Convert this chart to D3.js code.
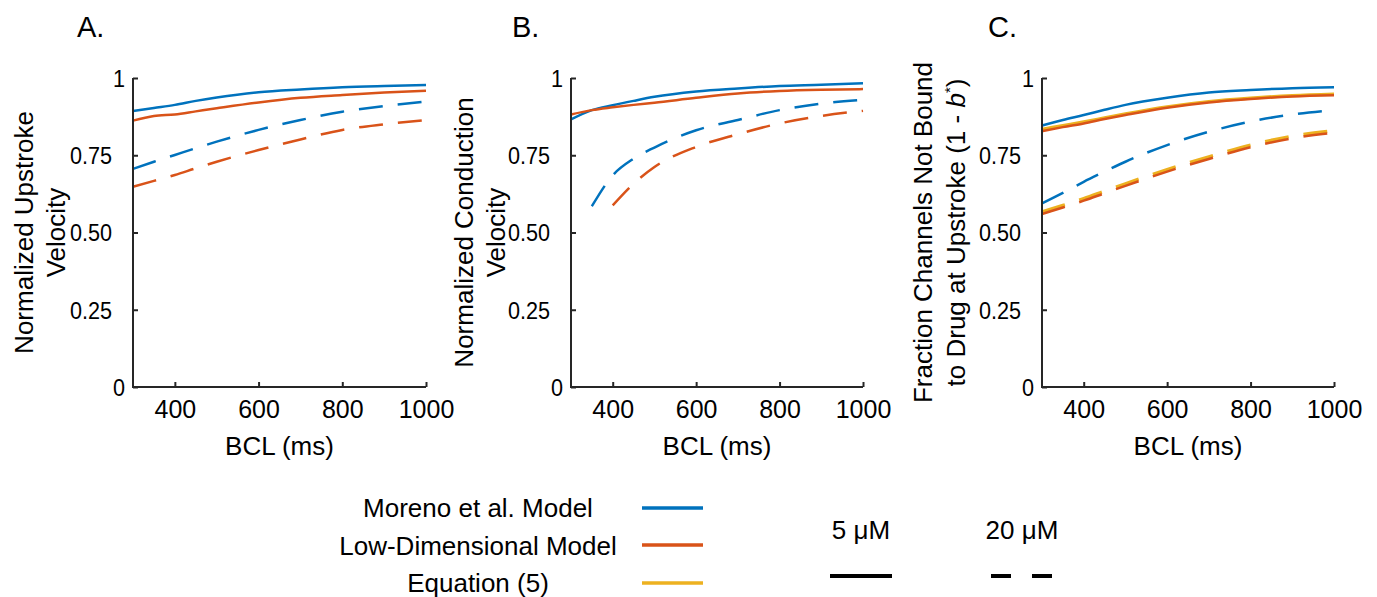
<!DOCTYPE html>
<html>
<head>
<meta charset="utf-8">
<script src="https://cdn.jsdelivr.net/npm/d3@7"></script>
<style>
  body { margin: 0; background: #fff; }
  svg text { font-family: "Liberation Sans", Arial, sans-serif; fill: #000; }
</style>
</head>
<body>
<div id="chart"></div>
<script>
// BCL values (ms) shared by all panels
const bcl = [300, 350, 400, 450, 500, 600, 700, 800, 900, 1000];

// Panel A: normalized upstroke velocity
const morenoA5  = [0.893, 0.903, 0.913, 0.926, 0.937, 0.954, 0.963, 0.970, 0.974, 0.977];
const lowdimA5  = [0.862, 0.877, 0.882, 0.892, 0.902, 0.921, 0.936, 0.945, 0.953, 0.959];
const morenoA20 = [0.706, 0.729, 0.751, 0.773, 0.794, 0.832, 0.864, 0.891, 0.909, 0.924];
const lowdimA20 = [0.648, 0.667, 0.686, 0.708, 0.729, 0.767, 0.801, 0.832, 0.850, 0.864];

// Panel B: normalized conduction velocity
const morenoB5  = [0.866, 0.896, 0.912, 0.926, 0.939, 0.956, 0.966, 0.974, 0.978, 0.983];
const lowdimB5  = [0.882, 0.896, 0.905, 0.913, 0.920, 0.936, 0.950, 0.958, 0.962, 0.964];
const morenoB20 = [null, 0.585, 0.685, 0.739, 0.775, 0.831, 0.864, 0.896, 0.917, 0.929];
const lowdimB20 = [null, null, 0.588, 0.658, 0.712, 0.777, 0.818, 0.853, 0.877, 0.894];

// Panel C: fraction channels not bound at upstroke
const morenoC5  = [0.846, 0.864, 0.880, 0.897, 0.913, 0.936, 0.953, 0.961, 0.967, 0.970];
const lowdimC5  = [0.828, 0.841, 0.853, 0.867, 0.880, 0.904, 0.921, 0.932, 0.940, 0.944];
const eqC5      = [0.834, 0.846, 0.858, 0.871, 0.884, 0.907, 0.924, 0.935, 0.943, 0.948];
const morenoC20 = [0.594, 0.628, 0.664, 0.697, 0.729, 0.783, 0.826, 0.859, 0.882, 0.896];
const lowdimC20 = [0.560, 0.581, 0.603, 0.627, 0.651, 0.697, 0.738, 0.776, 0.805, 0.823];
const eqC20     = [0.567, 0.588, 0.610, 0.634, 0.658, 0.704, 0.745, 0.783, 0.812, 0.830];

const xTicks = [400, 600, 800, 1000];
const yTicks = [0, 0.25, 0.5, 0.75, 1];
const yTickLabels = ['0', '0.25', '0.50', '0.75', '1'];

const seriesNames = ['Moreno et al. Model', 'Low-Dimensional Model', 'Equation (5)'];
const doseNames = ['5 \u03bcM', '20 \u03bcM'];

const colors = { moreno: '#0072BD', lowdim: '#D95319', eq: '#EDB120' };
const axisColor = '#262626';
const dash = '24,15';

const width = 1377;
const height = 597;

const svg = d3.select('#chart')
  .append('svg')
  .attr('width', width)
  .attr('height', height)

const panels = [
  { letter: 'A.', left: 133, right: 426, letterX: 77, ylabel: ['Normalized Upstroke', 'Velocity'], labelX: 33,
    lines: [
      { v: morenoA5, c: colors.moreno }, { v: lowdimA5, c: colors.lowdim },
      { v: morenoA20, c: colors.moreno, d: true }, { v: lowdimA20, c: colors.lowdim, d: true }
    ] },
  { letter: 'B.', left: 571, right: 863, letterX: 512, ylabel: ['Normalized Conduction', 'Velocity'], labelX: 473,
    lines: [
      { v: morenoB5, c: colors.moreno }, { v: lowdimB5, c: colors.lowdim },
      { v: morenoB20, c: colors.moreno, d: true }, { v: lowdimB20, c: colors.lowdim, d: true }
    ] },
  { letter: 'C.', left: 1042, right: 1334, letterX: 988, ylabel: ['Fraction Channels Not Bound', null], labelX: 932,
    lines: [
      { v: morenoC5, c: colors.moreno }, { v: eqC5, c: colors.eq, w: 3.2 }, { v: lowdimC5, c: colors.lowdim },
      { v: morenoC20, c: colors.moreno, d: true }, { v: eqC20, c: colors.eq, d: true, w: 3.2 },
      { v: lowdimC20, c: colors.lowdim, d: true }
    ] }
];

const plotTop = 78, plotBottom = 387;
const yTickScale = 0.9;

panels.forEach(p => {
  const x = d3.scaleLinear().domain([300, 1000]).range([p.left, p.right]);
  const y = d3.scaleLinear().domain([0, 1]).range([plotBottom, plotTop]);
  const g = svg.append('g');

  // data lines
  const line = d3.line()
    .defined(d => d.v != null)
    .x(d => x(d.x))
    .y(d => y(d.v))
    .curve(d3.curveMonotoneX);

  p.lines.forEach(s => {
    g.append('path')
      .datum(bcl.map((b, i) => ({ x: b, v: s.v[i] })))
      .attr('d', line)
      .attr('fill', 'none')
      .attr('stroke', s.c)
      .attr('stroke-width', s.w || 2.5)
      .attr('stroke-dasharray', s.d ? dash : null)
  });

  // axes (ticks pointing inward, MATLAB style)
  const xAxis = d3.axisBottom(x).tickValues(xTicks).tickSize(-5).tickSizeOuter(0)
    .tickFormat(d3.format('d'));
  const yAxis = d3.axisLeft(y).tickValues(yTicks).tickSize(-5).tickSizeOuter(0)
    .tickFormat((d, i) => yTickLabels[i]);

  const gx = g.append('g').attr('transform', `translate(0, ${plotBottom})`).call(xAxis);
  const gy = g.append('g').attr('transform', `translate(${p.left}, 0)`).call(yAxis);

  [gx, gy].forEach(ax => {
    ax.select('.domain').attr('stroke', axisColor).attr('stroke-width', 2);
    ax.selectAll('.tick line').attr('stroke', axisColor).attr('stroke-width', 2);
    ax.selectAll('.tick text').attr('fill', '#000');
  });
  gx.selectAll('.tick text')
    .style('font-size', '25px')
    .attr('y', 31)
    .attr('dy', 0);
  gy.selectAll('.tick text')
    .style('font-size', '24px')
    .attr('transform', `scale(${yTickScale},1)`)
    .attr('x', d => -(d === 0 || d === 1 ? 8 : 21) / yTickScale)
    .attr('dy', '0.35em');
  // extend domains to the corner
  gx.select('.domain').attr('d', `M${p.left - 1},0H${p.right}`);
  gy.select('.domain').attr('d', `M0,${plotBottom + 1}V${plotTop}`);

  // x label
  g.append('text')
    .attr('x', (p.left + p.right) / 2)
    .attr('y', 455)
    .attr('text-anchor', 'middle')
    .style('font-size', '26px')
    .text('BCL (ms)')

  // panel letter
  g.append('text')
    .attr('x', p.letterX)
    .attr('y', 37)
    .style('font-size', '29px')
    .text(p.letter)

  // y label (two rotated lines)
  const cy = (plotTop + plotBottom) / 2;
  const yl = g.append('text')
    .attr('transform', `translate(${p.labelX}, ${cy}) rotate(-90)`)
    .attr('text-anchor', 'middle')
    .style('font-size', '26px')
  yl.append('tspan').attr('x', 0).attr('y', 0).text(p.ylabel[0]);
  if (p.ylabel[1]) {
    yl.append('tspan').attr('x', 0).attr('y', 32).text(p.ylabel[1]);
  } else {
    const t2 = yl.append('tspan').attr('x', 0).attr('y', 33);
    t2.append('tspan').text('to Drug at Upstroke (1 - ');
    t2.append('tspan').style('font-style', 'italic').text('b');
    t2.append('tspan').attr('dy', -10).style('font-size', '15px').text('*');
    t2.append('tspan').attr('dy', 10).text(')');
  }
});

// legend: model colours
const legendLineY = [508, 545, 583];
const legendTextY = [517, 555, 592];
const legendColors = [colors.moreno, colors.lowdim, colors.eq];
const legend = svg.selectAll('.legend')
  .data(seriesNames)
  .enter()
  .append('g')
  .attr('class', 'legend')

legend.append('text')
  .attr('x', 478)
  .attr('y', (d, i) => legendTextY[i])
  .attr('text-anchor', 'middle')
  .style('font-size', '26px')
  .text(d => d)

legend.append('line')
  .attr('x1', 642)
  .attr('x2', 703)
  .attr('y1', (d, i) => legendLineY[i])
  .attr('y2', (d, i) => legendLineY[i])
  .attr('stroke', (d, i) => legendColors[i])
  .attr('stroke-width', 3.3)

// legend: dose line styles
const doseX = [861, 1022];
doseNames.forEach((name, i) => {
  svg.append('text')
    .attr('x', doseX[i])
    .attr('y', 539)
    .attr('text-anchor', 'middle')
    .style('font-size', '26px')
    .text(name)
  svg.append('line')
    .attr('x1', doseX[i] - 31)
    .attr('x2', doseX[i] + 31)
    .attr('y1', 576)
    .attr('y2', 576)
    .attr('stroke', '#000')
    .attr('stroke-width', 4)
    .attr('stroke-dasharray', i === 1 ? '20,21' : null)
});
</script>
</body>
</html>
